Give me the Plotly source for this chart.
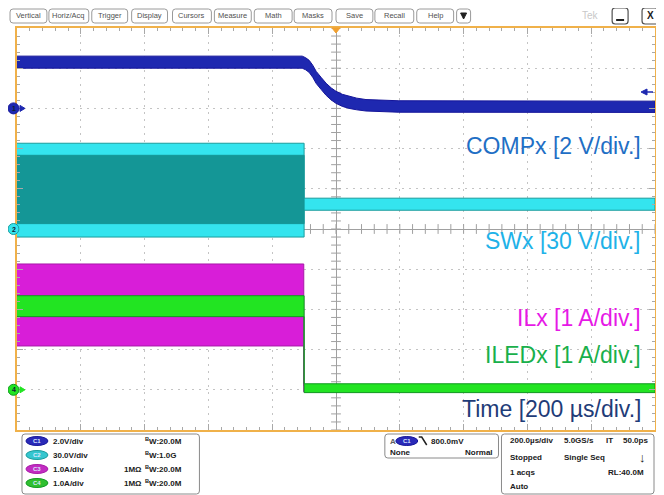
import numpy as np
import plotly.graph_objects as go

# screen geometry of the capture (pixels); the page body adds an 8 px margin
W, H = 664, 495
OFF = 8
PL, PR, PT, PB = 17, 657, 28, 430


def px(x):
    return (x - PL) / (PR - PL)


def py(y):
    return (PB - y) / (PB - PT)


# channel setup: units per division and ground position (divisions)
ch_scale = [2.0, 30.0, 1.0, 1.0]
ch_pos = [3.0, 0.0, -4.0, -4.0]

# envelopes, time in µs (200 µs/div)
comp_t = [-1000, -106, -95, -84, -73, -62, -47, -31, -15, 0, 20, 41, 65, 94, 140, 197, 1000]
comp_hi = [2.60, 2.60, 2.52, 2.39, 2.15, 1.84, 1.55, 1.25, 1.02, 0.85, 0.70, 0.60, 0.51, 0.44, 0.40, 0.38, 0.36]
comp_lo = [2.00, 2.00, 1.92, 1.79, 1.55, 1.24, 0.95, 0.65, 0.42, 0.25, 0.10, 0.00, -0.07, -0.13, -0.17, -0.19, -0.20]

sw_t = [-1000, -100, -100, 1000]
sw_hi = [64, 64, 23, 23]
sw_lo = [-6, -6, 14, 14]
sw_core_t = [-1000, -100]
sw_core_hi = [55, 55]
sw_core_lo = [4, 4]

il_t = [-1000, -101, -101, 1000]
il_hi = [3.13, 3.13, 0.10, 0.10]
il_lo = [1.09, 1.09, -0.05, -0.05]

iled_t = [-1000, -100, -100, 1000]
iled_hi = [2.34, 2.34, 0.15, 0.15]
iled_lo = [1.82, 1.82, -0.07, -0.07]

labels = ["COMPx [2 V/div.]", "SWx [30 V/div.]", "ILx [1 A/div.]", "ILEDx [1 A/div.]", "Time [200 µs/div.]"]
label_colors = ["#1f6fc5", "#1eb2e8", "#e619e6", "#19b04b", "#1f3c78"]
label_y = [146, 241, 318, 355, 409]

buttons = ["Vertical", "Horiz/Acq", "Trigger", "Display", "Cursors", "Measure",
           "Math", "Masks", "Save", "Recall", "Help", "▾"]
ch_vdiv = ["2.0V/div", "30.0V/div", "1.0A/div", "1.0A/div"]
ch_imp = ["", "", "1MΩ", "1MΩ"]
ch_bw = ["20.0M", "1.0G", "20.0M", "20.0M"]

wave_fill = ["#1e28b0", "#34e4ee", "#d81ed8", "#22e422"]
wave_edge = ["#15159a", "#1a9c9c", "#a81aa8", "#0f9a1f"]
badge_col = ["#2a2ab8", "#35c6cf", "#c22cc2", "#2fbf2f"]


def band(t, hi, lo, ch):
    s, p = ch_scale[ch], ch_pos[ch]
    x = list(t) + list(t)[::-1]
    y = [v / s + p for v in hi] + [v / s + p for v in lo][::-1]
    return x, y


fig = go.Figure()

# centre graticule ticks
ct = np.arange(-1000, 1001, 40)
fig.add_trace(go.Scatter(x=ct, y=[0] * len(ct), mode="markers", hoverinfo="skip",
                         marker=dict(symbol="line-ns", size=7, line=dict(color="#a0a0a0", width=1))))
cy = np.arange(-5, 5.01, 0.2)
fig.add_trace(go.Scatter(x=[0] * len(cy), y=cy, mode="markers", hoverinfo="skip",
                         marker=dict(symbol="line-ew", size=7, line=dict(color="#a0a0a0", width=1))))

for (t, hi, lo, ch, fc, lc) in [
    (comp_t, comp_hi, comp_lo, 0, wave_fill[0], wave_edge[0]),
    (sw_t, sw_hi, sw_lo, 1, wave_fill[1], wave_edge[1]),
    (sw_core_t, sw_core_hi, sw_core_lo, 1, "#149696", "#149696"),
    (il_t, il_hi, il_lo, 2, wave_fill[2], wave_edge[2]),
    (iled_t, iled_hi, iled_lo, 3, wave_fill[3], wave_edge[3]),
]:
    x, y = band(t, hi, lo, ch)
    fig.add_trace(go.Scatter(x=x, y=y, mode="lines", fill="toself", fillcolor=fc,
                             line=dict(color=lc, width=1), hoverinfo="skip"))

shapes = []
ann = []


def rrect(x0, y0, x1, y1, r=3, line="#9a9a9a", w=1, fill="white"):
    X0, X1, Y0, Y1 = px(x0), px(x1), py(y0), py(y1)
    rx, ry = r / (PR - PL), r / (PB - PT)
    path = (f"M{X0+rx},{Y0} L{X1-rx},{Y0} Q{X1},{Y0} {X1},{Y0-ry} L{X1},{Y1+ry} "
            f"Q{X1},{Y1} {X1-rx},{Y1} L{X0+rx},{Y1} Q{X0},{Y1} {X0},{Y1+ry} "
            f"L{X0},{Y0-ry} Q{X0},{Y0} {X0+rx},{Y0} Z")
    shapes.append(dict(type="path", xref="paper", yref="paper", path=path,
                       line=dict(color=line, width=w), fillcolor=fill, layer="above"))


def text(x, y, s, size=8, color="#202020", anchor="left", bold=False, family="Arial, Liberation Sans"):
    if bold:
        s = "<b>" + s + "</b>"
    ann.append(dict(x=px(x), y=py(y), xref="paper", yref="paper", text=s, showarrow=False,
                    xanchor=anchor, yanchor="middle", font=dict(size=size, color=color, family=family)))


def poly(pts, color):
    p = "M" + " L".join(f"{px(a)},{py(b)}" for a, b in pts) + " Z"
    shapes.append(dict(type="path", xref="paper", yref="paper", path=p,
                       line=dict(color=color, width=1), fillcolor=color, layer="above"))


# toolbar
bx0 = [10, 49, 92, 132, 173, 215, 255, 295, 337, 376, 418, 458]
bx1 = [47, 89, 128, 168, 212, 252, 293, 333, 374, 415, 455, 472]
for lab, a, b in zip(buttons, bx0, bx1):
    rrect(a, 9, b, 23)
    if lab == "▾":
        poly([(462, 13), (468, 13), (465, 19)], "#202020")
    else:
        text((a + b) / 2, 16, lab, size=7.5, color="#505050", anchor="center")
text(592, 16, "Tek", size=10, color="#c8c8c8", anchor="center")
rrect(614, 8, 630, 24, line="#505050", w=1.2)
shapes.append(dict(type="line", xref="paper", yref="paper", x0=px(618), x1=px(626),
                   y0=py(20), y1=py(20), line=dict(color="#202020", width=2)))
rrect(644, 8, 660, 24, line="#505050", w=1.2)
text(652, 16, "X", size=10, color="#202020", anchor="center", bold=True)

# channel ground markers at the left edge
for ch, num in [(0, "1"), (1, "2"), (3, "4")]:
    yy = PB - (ch_pos[ch] + 5) / 10 * (PB - PT)
    shapes.append(dict(type="circle", xref="paper", yref="paper", x0=px(8), x1=px(19),
                       y0=py(yy + 5.5), y1=py(yy - 5.5), fillcolor=wave_fill[ch],
                       line=dict(color=wave_edge[ch], width=1), layer="above"))
    poly([(20, yy - 3), (25, yy), (20, yy + 3)], wave_fill[ch])
    text(13.5, yy, num, size=7, color="#102030", anchor="center", bold=True)

# trigger position and level markers
poly([(333, 28), (341, 28), (337, 33)], "#f0a030")
poly([(643, 92), (649, 89), (649, 95)], wave_fill[0])
shapes.append(dict(type="line", xref="paper", yref="paper", x0=px(648), x1=px(655),
                   y0=py(92), y1=py(92), line=dict(color=wave_fill[0], width=1.5)))

# trace labels
for s, c, y in zip(labels, label_colors, label_y):
    text(645, y, s, size=23, color=c, anchor="right")

# bottom status panel
rrect(22, 434, 200, 494, line="#8a8a8a")
for i in range(4):
    y = 441 + 14 * i
    shapes.append(dict(type="circle", xref="paper", yref="paper", x0=px(26), x1=px(48),
                       y0=py(y + 4.5), y1=py(y - 4.5), fillcolor=badge_col[i],
                       line=dict(color=wave_edge[i], width=1), layer="above"))
    text(37, y, "C" + str(i + 1), size=6, color="#d8e8ff", anchor="center", bold=True)
    text(51, y, ch_vdiv[i], size=8, bold=True)
    if ch_imp[i]:
        text(122, y, ch_imp[i], size=8, bold=True)
    text(143, y, "<sup>B</sup>W:" + ch_bw[i], size=8, bold=True)

rrect(386, 434, 500, 458, line="#8a8a8a")
text(389, 441, "A", size=8, bold=True, color="#606060")
shapes.append(dict(type="circle", xref="paper", yref="paper", x0=px(397), x1=px(419),
                   y0=py(445.5), y1=py(436.5), fillcolor=badge_col[0],
                   line=dict(color=wave_edge[0], width=1), layer="above"))
text(408, 441, "C1", size=6, color="#d8e8ff", anchor="center", bold=True)
shapes.append(dict(type="path", xref="paper", yref="paper",
                   path=f"M{px(420)},{py(437)} L{px(423)},{py(437)} L{px(428)},{py(445)}",
                   line=dict(color="#202020", width=1.5), layer="above"))
text(430, 441, "800.0mV", size=8, bold=True)
text(389, 452, "None", size=8, bold=True)
text(496, 452, "Normal", size=8, bold=True, anchor="right")

rrect(503, 434, 656, 494, line="#8a8a8a")
text(510, 440, "200.0µs/div", size=8, bold=True)
text(564, 440, "5.0GS/s", size=8, bold=True)
text(606, 440, "IT", size=8, bold=True)
text(652, 440, "50.0ps", size=8, bold=True, anchor="right")
text(510, 457, "Stopped", size=8, bold=True)
text(564, 457, "Single Seq", size=8, bold=True)
text(644, 458, "↓", size=13, bold=True, anchor="center")
text(510, 472, "1 acqs", size=8, bold=True)
text(648, 472, "RL:40.0M", size=8, bold=True, anchor="right")
text(510, 486, "Auto", size=8, bold=True)

axis_common = dict(showticklabels=False, fixedrange=True, showgrid=True, gridcolor="#c4c4c4",
                   griddash="2px,5px", gridwidth=1, zeroline=True, zerolinecolor="#a0a0a0",
                   zerolinewidth=1, showline=True, linecolor="#f0b14a", linewidth=2,
                   mirror="ticks", ticks="inside", ticklen=6, tickcolor="#a8a8a8", tickwidth=1)

fig.update_layout(
    width=W - OFF, height=H - OFF,
    margin=dict(l=PL - OFF, r=W - PR, t=PT - OFF, b=H - PB, pad=0),
    paper_bgcolor="white", plot_bgcolor="white",
    showlegend=False,
    xaxis=dict(range=[-1000, 1000], dtick=200, tick0=0,
               minor=dict(ticks="inside", dtick=40, tick0=0, ticklen=3, tickcolor="#a8a8a8", showgrid=False),
               **axis_common),
    yaxis=dict(range=[-5, 5], dtick=1, tick0=0,
               minor=dict(ticks="inside", dtick=0.2, tick0=0, ticklen=3, tickcolor="#a8a8a8", showgrid=False),
               **axis_common),
    shapes=shapes,
    annotations=ann,
)

fig.write_html("out.html")
